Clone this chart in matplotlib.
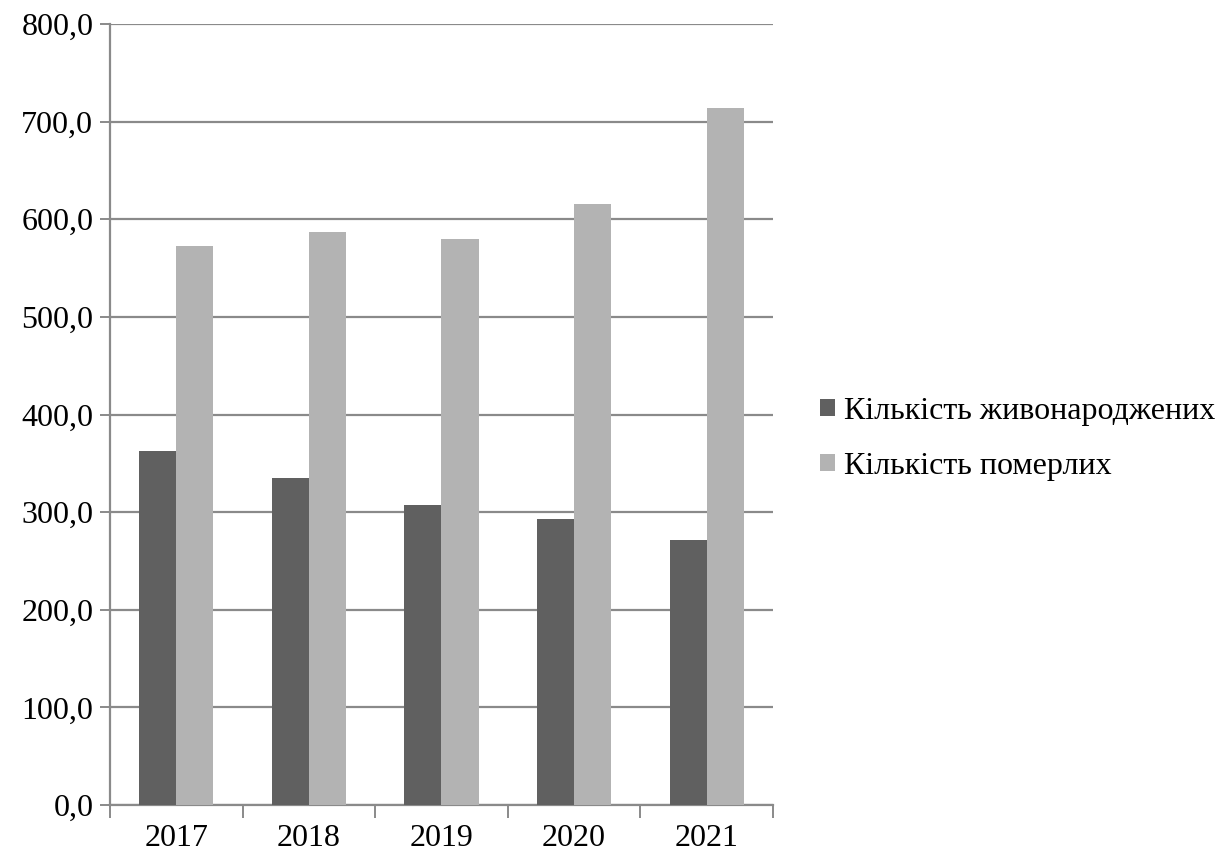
import matplotlib.pyplot as plt
import numpy as np

years = ['2017', '2018', '2019', '2020', '2021']
born = [363.0, 335.0, 307.0, 293.0, 271.0]   # Кількість живонароджених
died = [573.0, 587.0, 580.0, 616.0, 714.0]   # Кількість померлих

plt.rcParams['font.family'] = ['Liberation Serif', 'DejaVu Serif']

fig = plt.figure(figsize=(12.3, 8.59), dpi=100)
ax = fig.add_axes([0.0894, 0.0629, 0.5390, 0.9091])

x = np.arange(len(years))
w = 0.28
grid_col = '#8a8a8a'

ax.bar(x - w/2, born, w, color='#606060', label='Кількість живонароджених', zorder=3)
ax.bar(x + w/2, died, w, color='#b3b3b3', label='Кількість померлих', zorder=3)

ax.set_xlim(-0.5, len(years) - 0.5)
ax.set_ylim(0, 800)
yt = np.arange(0, 801, 100)
ax.set_yticks(yt)
ax.set_yticklabels([('%.1f' % v).replace('.', ',') for v in yt], fontsize=23)
ax.yaxis.grid(True, color=grid_col, linewidth=1.6, zorder=0)

# year labels in the middle, tick marks on the borders
ax.set_xticks(np.arange(-0.5, len(years)), labels=[])
ax.set_xticks(x, labels=years, minor=True, fontsize=23)
ax.tick_params(axis='x', which='minor', length=0, pad=14)
ax.tick_params(axis='x', which='major', length=9, width=1.4, color=grid_col, direction='out')
ax.tick_params(axis='y', length=7, width=1.4, color=grid_col, pad=5)

for s in ['top', 'right']:
    ax.spines[s].set_visible(False)
for s in ['left', 'bottom']:
    ax.spines[s].set_color(grid_col)
    ax.spines[s].set_linewidth(1.6)

ax.legend(loc='center left', bbox_to_anchor=(0.667, 0.489), bbox_transform=fig.transFigure,
          frameon=False, fontsize=23, handlelength=0.45, handleheight=0.45,
          handletextpad=0.3, labelspacing=0.8, borderpad=0, borderaxespad=0)

plt.savefig('out.png', dpi=100)
